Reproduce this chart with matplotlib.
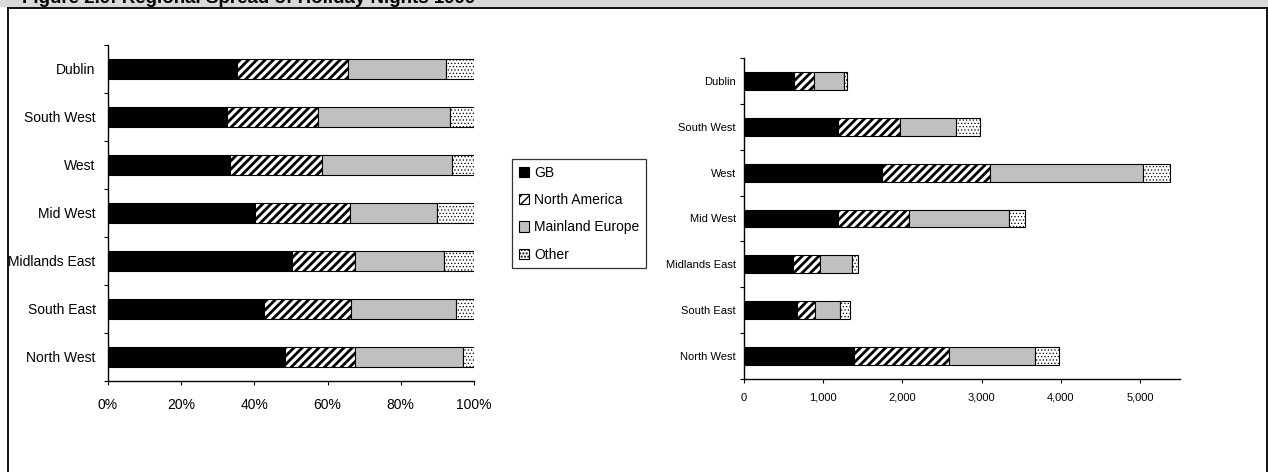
import numpy as np
import matplotlib.pyplot as plt
from matplotlib.patches import Rectangle
from matplotlib.lines import Line2D
from matplotlib.ticker import FuncFormatter, FixedLocator

plt.rcParams['font.family'] = ['Liberation Sans', 'DejaVu Sans']

regions = ['Dublin', 'South West', 'West', 'Mid West', 'Midlands East', 'South East', 'North West']
markets = ['GB', 'North America', 'Mainland Europe', 'Other']

# share of holiday nights by market (%)
gb_pct = [35.2, 32.5, 33.4, 40.2, 50.3, 42.7, 48.4]
na_pct = [30.3, 25.0, 25.1, 25.8, 17.2, 23.7, 19.1]
eu_pct = [26.9, 36.0, 35.5, 23.8, 24.2, 28.6, 29.5]
oth_pct = [7.6, 6.5, 6.0, 10.2, 8.3, 5.0, 3.0]

# holiday nights ('000)
gb_n = [628, 1188, 1748, 1188, 619, 670, 1390]
na_n = [252, 779, 1356, 901, 337, 223, 1205]
eu_n = [384, 716, 1930, 1260, 409, 320, 1082]
oth_n = [42, 295, 345, 202, 76, 122, 300]

colours = ['black', 'white', '#c0c0c0', 'white']
hatches = [None, '////', None, '.....']
hatch_lw = [1.0, 2.0, 1.0, 0.5]

W, H = 1268, 472
fig = plt.figure(figsize=(W / 100, H / 100), dpi=100)


def px(x, y):
    return x / W, 1 - y / H


def stacked(ax, series, bar_h):
    y = np.arange(len(regions))
    left = np.zeros(len(regions))
    for vals, fc, h, hlw, lab in zip(series, colours, hatches, hatch_lw, markets):
        with plt.rc_context({'hatch.linewidth': hlw}):
            ax.barh(y, vals, left=left, height=bar_h, color=fc, edgecolor='black',
                    linewidth=0.8, hatch=h, label=lab)
        left += np.array(vals)
    ax.set_ylim(len(regions) - 0.5, -0.5)
    ax.yaxis.set_major_locator(FixedLocator(np.arange(len(regions) + 1) - 0.5))
    ax.yaxis.set_major_formatter(FuncFormatter(lambda v, p: ''))
    ax.yaxis.set_minor_locator(FixedLocator(y))
    ax.set_yticklabels(regions, minor=True)
    for s in ['top', 'right']:
        ax.spines[s].set_visible(False)
    for s in ['left', 'bottom']:
        ax.spines[s].set_linewidth(1.0)


# left: percentage split
x0, y0 = px(108, 381)
x1, y1 = px(474, 45)
ax1 = fig.add_axes([x0, y0, x1 - x0, y1 - y0])
stacked(ax1, [gb_pct, na_pct, eu_pct, oth_pct], 0.42)
ax1.set_xlim(0, 100)
ax1.set_xticks(range(0, 101, 20))
ax1.xaxis.set_major_formatter(FuncFormatter(lambda v, p: '%d%%' % v))
ax1.tick_params(axis='x', length=3, pad=9, labelsize=10)
ax1.tick_params(axis='y', which='major', length=3)
ax1.tick_params(axis='y', which='minor', length=0, pad=9, labelsize=10)

# right: absolute nights
x0, y0 = px(744, 379)
x1, y1 = px(1179.5, 58)
ax2 = fig.add_axes([x0, y0, x1 - x0, y1 - y0])
stacked(ax2, [gb_n, na_n, eu_n, oth_n], 0.39)
ax2.set_xlim(0, 5500)
ax2.set_xticks(range(0, 5001, 1000))
ax2.xaxis.set_major_formatter(FuncFormatter(lambda v, p: '{:,}'.format(int(v))))
ax2.tick_params(axis='x', length=3, pad=7, labelsize=8)
ax2.tick_params(axis='y', which='major', length=3)
ax2.tick_params(axis='y', which='minor', length=0, pad=6, labelsize=8)

handles, labels = ax1.get_legend_handles_labels()
leg = fig.legend(handles, labels, loc='upper left', bbox_to_anchor=px(512, 159),
                 fontsize=10, frameon=True, fancybox=False, handlelength=0.75,
                 handleheight=0.75, handletextpad=0.35, labelspacing=0.95,
                 borderpad=0.5, borderaxespad=0)
leg.get_frame().set_edgecolor('black')
leg.get_frame().set_linewidth(0.9)

# header band and frame
fig.add_artist(Rectangle((0, 1 - 7 / H), 1, 7 / H, transform=fig.transFigure,
                         facecolor='#d9d9d9', edgecolor='none', zorder=0))
fig.text(22 / W, 1 - 3 / H, 'Figure 2.9: Regional Spread of Holiday Nights 1999',
         fontsize=13.5, fontweight='bold', va='baseline', ha='left', zorder=1)
fig.add_artist(Line2D([7.5 / W, 1266.5 / W], [1 - 7.5 / H] * 2, color='black', lw=1.3))
fig.add_artist(Line2D([7.5 / W] * 2, [0, 1 - 7.5 / H], color='black', lw=1.3))
fig.add_artist(Line2D([1266.5 / W] * 2, [0, 1 - 7.5 / H], color='black', lw=1.3))

fig.savefig('out.png', dpi=100)
